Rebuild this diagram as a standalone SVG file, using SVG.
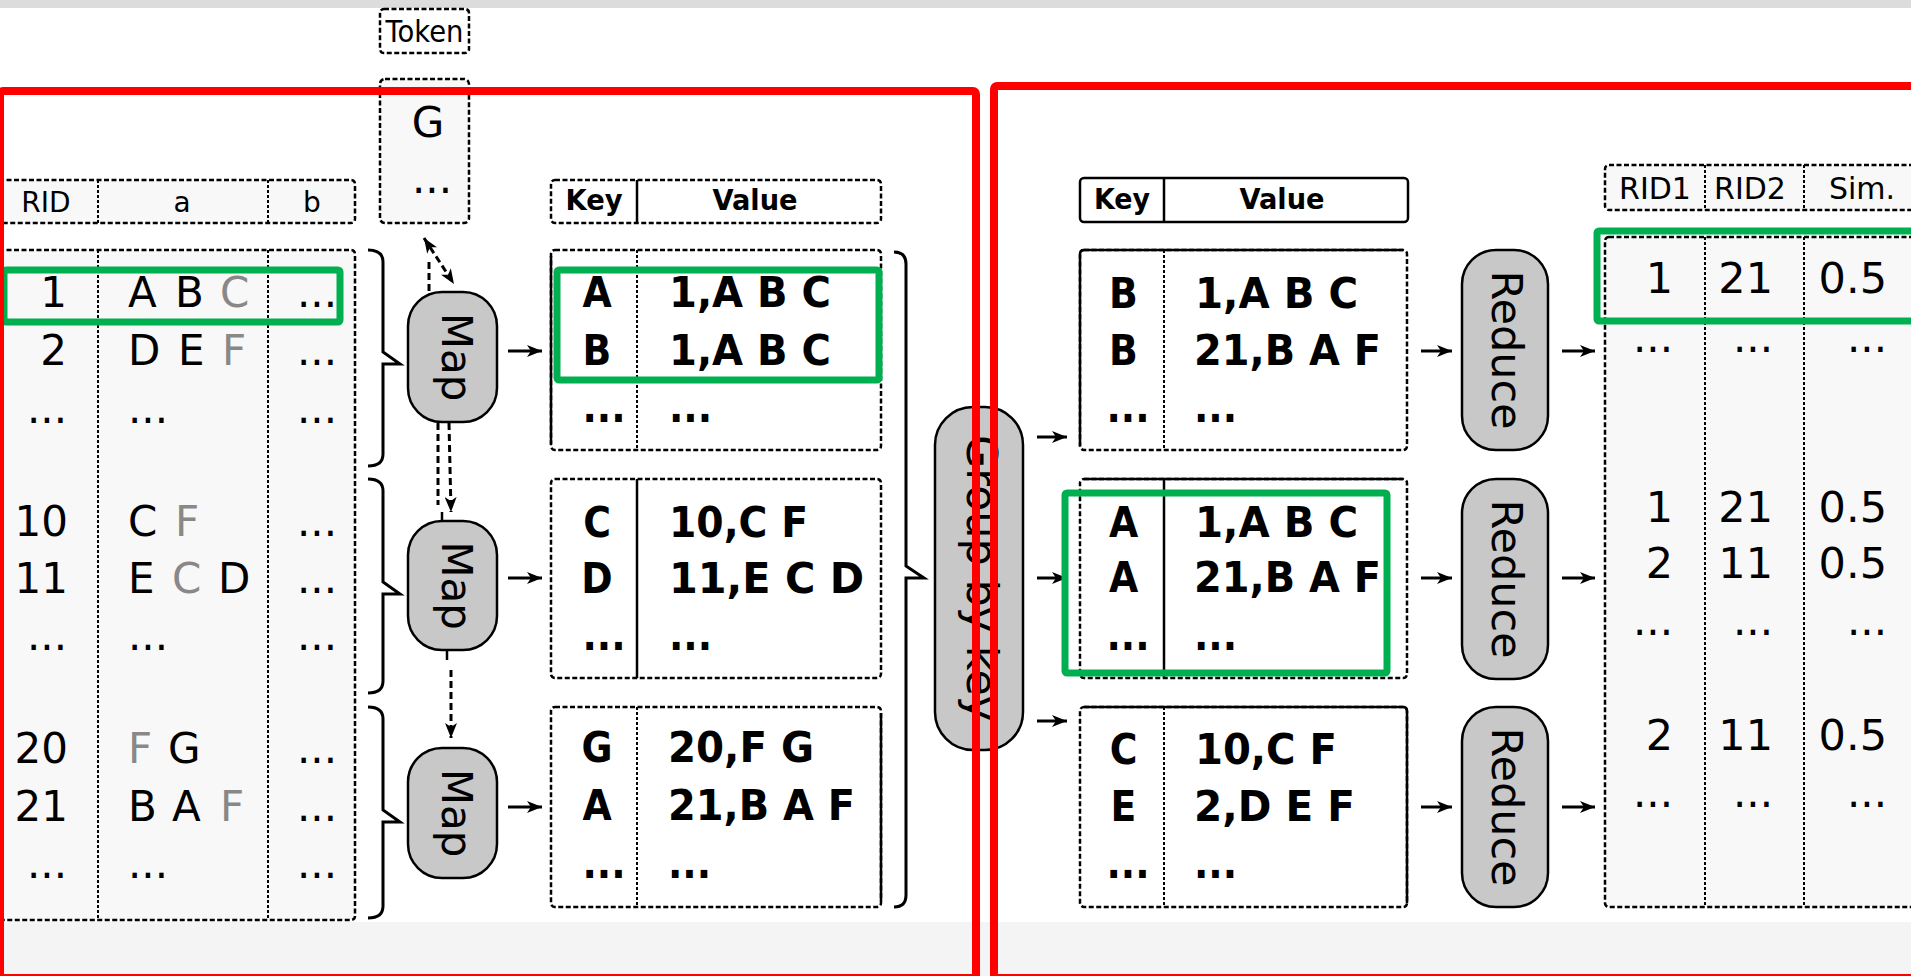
<svg xmlns="http://www.w3.org/2000/svg" width="1911" height="976" viewBox="0 0 1911 976">
<defs>
<style>
.t{font-family:"DejaVu Sans","Liberation Sans",sans-serif;font-size:42px;fill:#000}
.h{font-family:"DejaVu Sans","Liberation Sans",sans-serif;font-size:28px;fill:#000}
.b{font-family:"DejaVu Sans Condensed","DejaVu Sans","Liberation Sans",sans-serif;font-weight:bold;font-stretch:condensed;font-size:42px;fill:#000}
.bh{font-family:"DejaVu Sans Condensed","DejaVu Sans","Liberation Sans",sans-serif;font-weight:bold;font-stretch:condensed;font-size:29px;fill:#000}
.gr{fill:#888}
.m{text-anchor:middle}
.e{text-anchor:end}
.dash{fill:none;stroke:#000;stroke-width:2.5;stroke-dasharray:5 2.5}
.dfill{fill:#f8f8f8;stroke:#000;stroke-width:2.5;stroke-dasharray:5 2.5}
.dwhite{fill:#fff;stroke:#000;stroke-width:2.5;stroke-dasharray:5 2.5}
.div{stroke:#000;stroke-width:2;stroke-dasharray:3 2;fill:none}
.sol{stroke:#000;stroke-width:2.5;fill:none}
.pill{fill:#c8c8c8;stroke:#000;stroke-width:2.5}
.brace{fill:none;stroke:#000;stroke-width:3}
.arr{stroke:#000;stroke-width:3;fill:none;marker-end:url(#ah)}
.darr{stroke:#000;stroke-width:3;fill:none;stroke-dasharray:7 4}
.green{fill:none;stroke:#00b050;stroke-width:7}
.red{fill:none;stroke:#ff0000;stroke-width:8}
</style>
<marker id="ah" markerWidth="15" markerHeight="12" refX="15" refY="6" orient="auto" markerUnits="userSpaceOnUse"><path d="M0,0 L15,6 L0,12 L4,6 z" fill="#000"/></marker>
<marker id="ahs" markerWidth="15" markerHeight="12" refX="0" refY="6" orient="auto" markerUnits="userSpaceOnUse"><path d="M15,0 L0,6 L15,12 L11,6 z" fill="#000"/></marker>
</defs>

<rect x="0" y="0" width="1911" height="976" fill="#fff"/>
<rect x="0" y="0" width="1911" height="8" fill="#dcdcdc"/>
<rect x="0" y="922" width="1911" height="54" fill="#f4f4f4"/>

<g id="input-table">
<rect class="dfill" x="-5" y="180" width="360" height="43" rx="4"/>
<line class="div" x1="98" y1="180" x2="98" y2="223"/>
<line class="div" x1="268" y1="180" x2="268" y2="223"/>
<text class="h m" x="46" y="212">RID</text>
<text class="h m" x="182" y="212">a</text>
<text class="h m" x="312" y="212">b</text>
<rect class="dfill" x="-5" y="250" width="360" height="670" rx="4"/>
<line class="div" x1="98" y1="250" x2="98" y2="920"/>
<line class="div" x1="268" y1="250" x2="268" y2="920"/>
<text class="t e" x="67" y="307">1</text>
<text class="t e" x="67" y="365">2</text>
<text class="t e" x="67" y="423">...</text>
<text class="t e" x="68" y="536">10</text>
<text class="t e" x="68" y="593">11</text>
<text class="t e" x="67" y="650">...</text>
<text class="t e" x="68" y="763">20</text>
<text class="t e" x="68" y="821">21</text>
<text class="t e" x="67" y="878">...</text>
<text class="t" y="307"><tspan x="128">A</tspan><tspan x="175">B</tspan><tspan x="220" class="gr">C</tspan></text>
<text class="t" y="365"><tspan x="128">D</tspan><tspan x="178">E</tspan><tspan x="222" class="gr">F</tspan></text>
<text class="t" x="128" y="423">...</text>
<text class="t" y="536"><tspan x="128">C</tspan><tspan x="175" class="gr">F</tspan></text>
<text class="t" y="593"><tspan x="128">E</tspan><tspan x="172" class="gr">C</tspan><tspan x="218">D</tspan></text>
<text class="t" x="128" y="650">...</text>
<text class="t" y="763"><tspan x="128" class="gr">F</tspan><tspan x="168">G</tspan></text>
<text class="t" y="821"><tspan x="128">B</tspan><tspan x="172">A</tspan><tspan x="220" class="gr">F</tspan></text>
<text class="t" x="128" y="878">...</text>
<text class="t e" x="337" y="307">...</text>
<text class="t e" x="337" y="365">...</text>
<text class="t e" x="337" y="423">...</text>
<text class="t e" x="337" y="536">...</text>
<text class="t e" x="337" y="593">...</text>
<text class="t e" x="337" y="650">...</text>
<text class="t e" x="337" y="763">...</text>
<text class="t e" x="337" y="821">...</text>
<text class="t e" x="337" y="878">...</text>
</g>

<g id="braces-left">
<path class="brace" d="M368,250 Q383,250 383,262 L383,352 L400,364 L383,364 L383,454 Q383,466 368,466"/>
<path class="brace" d="M368,479 Q383,479 383,491 L383,582 L400,594 L383,594 L383,681 Q383,693 368,693"/>
<path class="brace" d="M368,707 Q383,707 383,719 L383,810 L400,822 L383,822 L383,906 Q383,918 368,918"/>
</g>

<g id="token-label">
<rect class="dash" x="380" y="9" width="89" height="44" rx="4"/>
<text class="h m" style="font-size:30px" x="424.5" y="42" textLength="78" lengthAdjust="spacingAndGlyphs">Token</text>
</g>
<g id="token-table">
<rect class="dfill" x="380" y="79" width="89" height="144" rx="5"/>
<text class="t m" x="428" y="137">G</text>
<text class="t m" x="432" y="193">...</text>
</g>

<g id="map1">
<rect class="pill" x="408" y="292" width="89" height="130" rx="34"/>
<text class="t m" transform="translate(442,357) rotate(90)">Map</text>
</g>
<g id="map2">
<rect class="pill" x="408" y="521" width="89" height="129" rx="34"/>
<text class="t m" transform="translate(442,585.5) rotate(90)">Map</text>
</g>
<g id="map3">
<rect class="pill" x="408" y="748" width="89" height="130" rx="34"/>
<text class="t m" transform="translate(442,813) rotate(90)">Map</text>
</g>

<g id="kv-header-left">
<rect class="dash" x="551" y="180" width="330" height="43" rx="4"/>
<line class="sol" x1="637" y1="180" x2="637" y2="223"/>
<text class="bh m" x="594" y="210" textLength="57" lengthAdjust="spacingAndGlyphs">Key</text>
<text class="bh m" x="755" y="210" textLength="85" lengthAdjust="spacingAndGlyphs">Value</text>
</g>

<g id="kv-left-1">
<rect class="dwhite" x="551" y="250" width="330" height="200" rx="4"/>
<line class="sol" x1="551" y1="256" x2="551" y2="444"/>
<line class="div" x1="637" y1="250" x2="637" y2="450"/>
<text class="b m" x="597" y="307">A</text>
<text class="b m" x="597" y="365">B</text>
<text class="b m" x="604" y="422">...</text>
<text class="b" x="669" y="307" textLength="162" lengthAdjust="spacingAndGlyphs">1,A B C</text>
<text class="b" x="669" y="365" textLength="162" lengthAdjust="spacingAndGlyphs">1,A B C</text>
<text class="b" x="669" y="422">...</text>
</g>
<g id="kv-left-2">
<rect class="dwhite" x="551" y="479" width="330" height="199" rx="4"/>
<line class="sol" x1="637" y1="479" x2="637" y2="678"/>
<text class="b m" x="597" y="537">C</text>
<text class="b m" x="597" y="593">D</text>
<text class="b m" x="604" y="650">...</text>
<text class="b" x="669" y="537" textLength="139" lengthAdjust="spacingAndGlyphs">10,C F</text>
<text class="b" x="669" y="593" textLength="195" lengthAdjust="spacingAndGlyphs">11,E C D</text>
<text class="b" x="669" y="650">...</text>
</g>
<g id="kv-left-3">
<rect class="dwhite" x="551" y="707" width="330" height="200" rx="4"/>
<line class="sol" x1="881" y1="713" x2="881" y2="901"/>
<line class="div" x1="637" y1="707" x2="637" y2="907"/>
<text class="b m" x="597" y="762">G</text>
<text class="b m" x="597" y="820">A</text>
<text class="b m" x="604" y="878">...</text>
<text class="b" x="668" y="762" textLength="146" lengthAdjust="spacingAndGlyphs">20,F G</text>
<text class="b" x="668" y="820" textLength="187" lengthAdjust="spacingAndGlyphs">21,B A F</text>
<text class="b" x="668" y="878">...</text>
</g>

<g id="brace-right">
<path class="brace" d="M894,252 Q906,252 906,264 L906,566 L924,578 L906,578 L906,895 Q906,907 894,907"/>
</g>

<g id="group-by-key">
<rect class="pill" x="935" y="407" width="88" height="343" rx="38"/>
<text class="t m" style="font-size:43px" transform="translate(967,578) rotate(90)">Group by key</text>
</g>

<g id="kv-header-right">
<rect class="sol" x="1080" y="178" width="328" height="44" rx="4"/>
<line class="sol" x1="1164" y1="178" x2="1164" y2="222"/>
<text class="bh m" x="1122" y="209" textLength="56" lengthAdjust="spacingAndGlyphs">Key</text>
<text class="bh m" x="1282" y="209" textLength="85" lengthAdjust="spacingAndGlyphs">Value</text>
</g>

<g id="kv-right-1">
<rect class="dwhite" x="1080" y="250" width="327" height="200" rx="4"/>
<path class="sol" d="M1080,446 L1080,254 Q1080,250 1084,250 L1403,250"/>
<line class="div" x1="1164" y1="250" x2="1164" y2="450"/>
<text class="b m" x="1123.5" y="308">B</text>
<text class="b m" x="1123.5" y="365">B</text>
<text class="b m" x="1128" y="422">...</text>
<text class="b" x="1195" y="308" textLength="163" lengthAdjust="spacingAndGlyphs">1,A B C</text>
<text class="b" x="1194" y="365" textLength="187" lengthAdjust="spacingAndGlyphs">21,B A F</text>
<text class="b" x="1194" y="422">...</text>
</g>
<g id="kv-right-2">
<rect class="dwhite" x="1080" y="479" width="327" height="199" rx="4"/>
<line class="sol" x1="1084" y1="479" x2="1403" y2="479"/>
<line class="sol" x1="1164" y1="479" x2="1164" y2="678"/>
<text class="b m" x="1123.5" y="537">A</text>
<text class="b m" x="1123.5" y="592">A</text>
<text class="b m" x="1128" y="650">...</text>
<text class="b" x="1195" y="537" textLength="163" lengthAdjust="spacingAndGlyphs">1,A B C</text>
<text class="b" x="1194" y="592" textLength="187" lengthAdjust="spacingAndGlyphs">21,B A F</text>
<text class="b" x="1194" y="650">...</text>
</g>
<g id="kv-right-3">
<rect class="dwhite" x="1080" y="707" width="327" height="200" rx="4"/>
<path class="sol" d="M1084,707 L1403,707 Q1407,707 1407,711 L1407,903"/>
<line class="div" x1="1164" y1="707" x2="1164" y2="907"/>
<text class="b m" x="1123.5" y="764">C</text>
<text class="b m" x="1123.5" y="821">E</text>
<text class="b m" x="1128" y="878">...</text>
<text class="b" x="1195" y="764" textLength="142" lengthAdjust="spacingAndGlyphs">10,C F</text>
<text class="b" x="1194" y="821" textLength="161" lengthAdjust="spacingAndGlyphs">2,D E F</text>
<text class="b" x="1194" y="878">...</text>
</g>

<g id="reduce1">
<rect class="pill" x="1462" y="250" width="86" height="200" rx="34"/>
<text class="t m" style="font-size:43px" transform="translate(1492,350) rotate(90)">Reduce</text>
</g>
<g id="reduce2">
<rect class="pill" x="1462" y="479" width="86" height="200" rx="34"/>
<text class="t m" style="font-size:43px" transform="translate(1492,579) rotate(90)">Reduce</text>
</g>
<g id="reduce3">
<rect class="pill" x="1462" y="707" width="86" height="200" rx="34"/>
<text class="t m" style="font-size:43px" transform="translate(1492,807) rotate(90)">Reduce</text>
</g>

<g id="result-table">
<rect class="dfill" x="1605" y="165" width="330" height="45" rx="4"/>
<line class="div" x1="1705" y1="165" x2="1705" y2="210"/>
<line class="div" x1="1804" y1="165" x2="1804" y2="210"/>
<text class="h m" style="font-size:30px" x="1655" y="199">RID1</text>
<text class="h m" style="font-size:30px" x="1750" y="199">RID2</text>
<text class="h m" style="font-size:30px" x="1862" y="199">Sim.</text>
<rect class="dfill" x="1605" y="237" width="330" height="670" rx="4"/>
<line class="div" x1="1705" y1="237" x2="1705" y2="907"/>
<line class="div" x1="1804" y1="237" x2="1804" y2="907"/>
<text class="t e" style="font-size:43px" x="1673" y="293">1</text>
<text class="t e" style="font-size:43px" x="1773" y="293">21</text>
<text class="t e" style="font-size:43px" x="1887" y="293">0.5</text>
<text class="t e" x="1673" y="352">...</text>
<text class="t e" x="1773" y="352">...</text>
<text class="t e" x="1887" y="352">...</text>
<text class="t e" style="font-size:43px" x="1673" y="522">1</text>
<text class="t e" style="font-size:43px" x="1773" y="522">21</text>
<text class="t e" style="font-size:43px" x="1887" y="522">0.5</text>
<text class="t e" style="font-size:43px" x="1673" y="578">2</text>
<text class="t e" style="font-size:43px" x="1773" y="578">11</text>
<text class="t e" style="font-size:43px" x="1887" y="578">0.5</text>
<text class="t e" x="1673" y="635">...</text>
<text class="t e" x="1773" y="635">...</text>
<text class="t e" x="1887" y="635">...</text>
<text class="t e" style="font-size:43px" x="1673" y="750">2</text>
<text class="t e" style="font-size:43px" x="1773" y="750">11</text>
<text class="t e" style="font-size:43px" x="1887" y="750">0.5</text>
<text class="t e" x="1673" y="807">...</text>
<text class="t e" x="1773" y="807">...</text>
<text class="t e" x="1887" y="807">...</text>
</g>

<g id="connectors">
<line class="arr" x1="508" y1="351" x2="542" y2="351"/>
<line class="arr" x1="508" y1="578" x2="542" y2="578"/>
<line class="arr" x1="508" y1="807" x2="542" y2="807"/>
<line class="arr" x1="1037" y1="437" x2="1067" y2="437"/>
<line class="arr" x1="1037" y1="578" x2="1067" y2="578"/>
<line class="arr" x1="1037" y1="721" x2="1067" y2="721"/>
<line class="arr" x1="1421" y1="351" x2="1452" y2="351"/>
<line class="arr" x1="1421" y1="578" x2="1452" y2="578"/>
<line class="arr" x1="1421" y1="807" x2="1452" y2="807"/>
<line class="arr" x1="1562" y1="351" x2="1595" y2="351"/>
<line class="arr" x1="1562" y1="578" x2="1595" y2="578"/>
<line class="arr" x1="1562" y1="807" x2="1595" y2="807"/>
<line class="darr" x1="424" y1="238" x2="454" y2="284" marker-start="url(#ahs)" marker-end="url(#ah)"/>
<line class="darr" x1="429" y1="262" x2="429" y2="292"/>
<line class="darr" x1="438" y1="423" x2="438" y2="505"/>
<line class="darr" x1="449" y1="423" x2="451" y2="512" marker-end="url(#ah)"/>
<line class="sol" x1="442" y1="512" x2="442" y2="521"/>
<line class="sol" x1="447" y1="650" x2="447" y2="660"/>
<line class="darr" x1="451" y1="670" x2="451" y2="738" marker-end="url(#ah)"/>
</g>

<g id="highlights">
<rect class="green" x="4" y="270" width="336" height="52" rx="2"/>
<rect class="green" x="557" y="270" width="322" height="110" rx="2"/>
<rect class="green" x="1065" y="493" width="322" height="180" rx="2"/>
<rect class="green" x="1597" y="231" width="330" height="90" rx="2"/>
<rect class="red" x="0" y="91" width="976" height="887" rx="3"/>
<rect class="red" x="994" y="86" width="930" height="892" rx="3"/>
</g>
</svg>
